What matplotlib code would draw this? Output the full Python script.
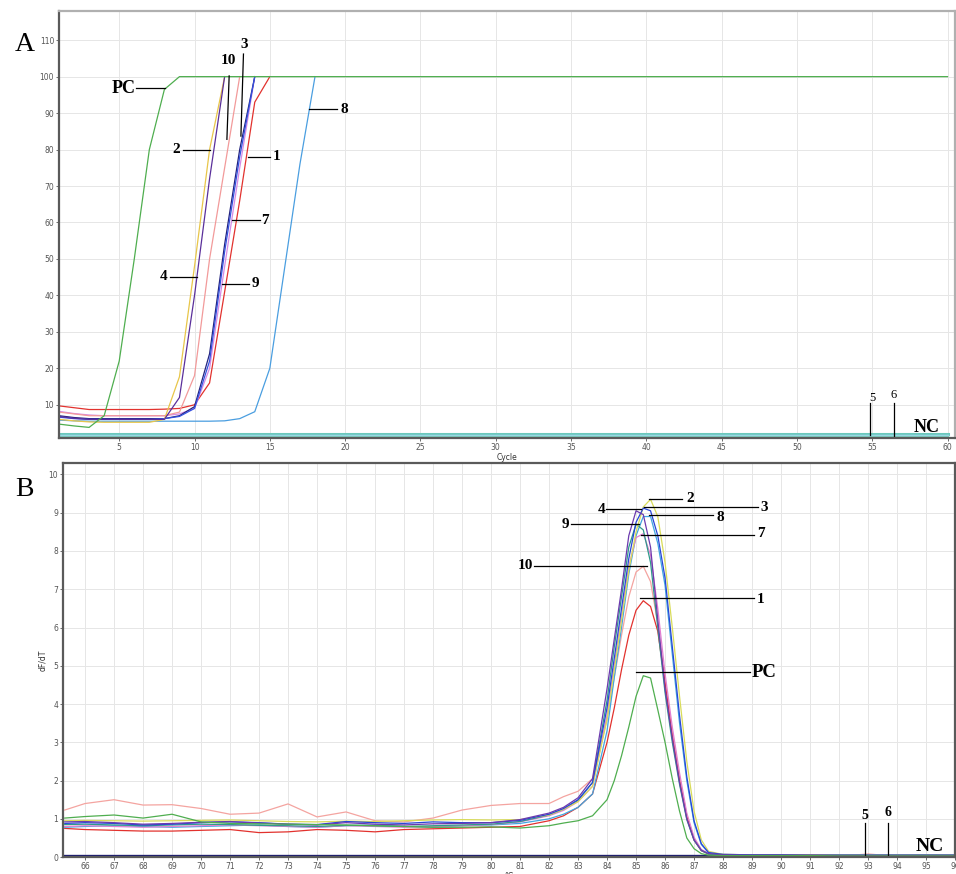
import matplotlib
matplotlib.use('Agg')
from matplotlib import pyplot as plt

# ---- panel A : amplification curves (fluorescence vs cycle) ----
cycles = list(range(1, 19))
amp_pc_cycles = [1, 2, 3, 4, 5, 6, 7, 8, 9, 60]
amp_pc = [4.7, 4.2, 3.8, 7.0, 22, 50, 80, 96.5, 100, 100]
amp_1 = [9.7, 9.2, 8.7, 8.7, 8.7, 8.7, 8.7, 8.8, 9.0, 10.0, 16, 41, 66, 93, 100]
amp_2 = [6.0, 5.6, 5.3, 5.2, 5.2, 5.2, 5.2, 6.0, 17.7, 48, 80, 100]
amp_3 = [6.6, 6.2, 6.0, 6.0, 6.0, 6.0, 6.0, 6.2, 6.8, 9.0, 22, 52, 78, 100]
amp_4 = [6.8, 6.3, 6.0, 6.0, 6.0, 6.0, 6.0, 6.0, 12, 40, 72, 100]
amp_7 = [8.2, 7.6, 7.2, 7.0, 7.0, 7.0, 7.0, 7.0, 7.5, 9.0, 20, 48, 75, 100]
amp_8 = [5.8, 5.6, 5.5, 5.5, 5.5, 5.5, 5.5, 5.5, 5.5, 5.5, 5.5, 5.6, 6.2, 8.1, 20, 48, 76, 100]
amp_9 = [7.0, 6.5, 6.2, 6.2, 6.2, 6.2, 6.2, 6.2, 7.0, 9.5, 24, 54, 80, 100]
amp_10 = [8.0, 7.5, 7.0, 7.0, 7.0, 7.0, 7.0, 7.0, 8.0, 18, 50, 75, 100]
amp_neg_cycles = [1, 60]
amp_nc = [2.0, 2.0]
amp_5 = [1.7, 1.7]
amp_6 = [1.5, 1.5]

# ---- panel B : melting curves (dF/dT vs temperature) ----
melt_T = [65.3, 66, 67, 68, 69, 70, 71, 72, 73, 74, 75, 76, 77, 78, 79, 80, 81, 82,
          82.5, 83, 83.5, 84, 84.25, 84.5, 84.75, 85, 85.25, 85.5, 85.75, 86, 86.25,
          86.5, 86.75, 87, 87.25, 87.5, 88, 89, 90, 91, 92, 93, 94, 95, 96]
melt_pc = [1.02, 1.06, 1.10, 1.02, 1.12, 0.92, 0.88, 0.87, 0.86, 0.85, 0.84, 0.82, 0.80, 0.78, 0.78, 0.79, 0.76, 0.82,
           0.89, 0.95, 1.08, 1.50, 2.00, 2.65, 3.40, 4.20, 4.74, 4.68, 3.85, 3.00, 2.05, 1.20,
           0.50, 0.22, 0.09, 0.05, 0.04, 0.04, 0.04, 0.04, 0.03, 0.03, 0.03, 0.03, 0.03]
melt_1 = [0.75, 0.72, 0.70, 0.68, 0.68, 0.70, 0.72, 0.64, 0.66, 0.72, 0.70, 0.66, 0.72, 0.74, 0.76, 0.78, 0.80, 0.95,
          1.08, 1.30, 1.65, 3.00, 3.90, 4.90, 5.80, 6.45, 6.70, 6.55, 5.90, 4.55, 3.15, 2.00,
          1.05, 0.45, 0.17, 0.08, 0.06, 0.05, 0.05, 0.05, 0.05, 0.07, 0.05, 0.05, 0.05]
melt_2 = [0.95, 0.96, 0.95, 0.94, 0.95, 0.96, 0.97, 0.95, 0.93, 0.92, 0.94, 0.93, 0.95, 0.97, 0.98, 0.97, 0.98, 1.10,
          1.25, 1.45, 1.85, 3.60, 4.90, 6.20, 7.50, 8.50, 9.15, 9.35, 8.90, 7.70, 6.00, 4.20,
          2.50, 1.20, 0.45, 0.15, 0.07, 0.06, 0.06, 0.06, 0.05, 0.05, 0.05, 0.05, 0.05]
melt_3 = [0.88, 0.90, 0.88, 0.84, 0.86, 0.90, 0.92, 0.90, 0.86, 0.85, 0.93, 0.90, 0.88, 0.92, 0.90, 0.90, 0.96, 1.12,
          1.27, 1.50, 1.95, 3.90, 5.20, 6.50, 7.80, 8.75, 9.12, 9.05, 8.40, 7.30, 5.50, 3.70,
          2.10, 0.95, 0.35, 0.12, 0.07, 0.06, 0.06, 0.05, 0.05, 0.05, 0.05, 0.05, 0.05]
melt_4 = [0.92, 0.93, 0.90, 0.86, 0.88, 0.91, 0.93, 0.89, 0.86, 0.84, 0.90, 0.86, 0.84, 0.87, 0.88, 0.90, 0.98, 1.15,
          1.30, 1.55, 2.05, 4.40, 5.70, 7.00, 8.40, 9.05, 8.95, 8.10, 6.20, 4.40, 3.10, 1.95,
          1.00, 0.45, 0.18, 0.09, 0.06, 0.05, 0.05, 0.05, 0.04, 0.04, 0.04, 0.04, 0.04]
melt_7 = [0.80, 0.82, 0.80, 0.78, 0.80, 0.82, 0.84, 0.82, 0.80, 0.78, 0.82, 0.80, 0.78, 0.80, 0.82, 0.85, 0.92, 1.08,
          1.22, 1.45, 1.85, 3.70, 5.00, 6.30, 7.60, 8.35, 8.45, 7.90, 6.50, 4.80, 3.40, 2.20,
          1.15, 0.52, 0.20, 0.09, 0.06, 0.05, 0.05, 0.05, 0.05, 0.05, 0.05, 0.05, 0.05]
melt_8 = [0.78, 0.80, 0.82, 0.80, 0.78, 0.80, 0.82, 0.84, 0.80, 0.78, 0.82, 0.84, 0.80, 0.78, 0.82, 0.84, 0.88, 1.00,
          1.12, 1.30, 1.65, 3.30, 4.70, 6.00, 7.40, 8.40, 8.90, 8.90, 8.20, 7.10, 5.30, 3.50,
          2.00, 0.90, 0.33, 0.11, 0.07, 0.06, 0.06, 0.06, 0.06, 0.06, 0.06, 0.06, 0.06]
melt_9 = [0.85, 0.86, 0.84, 0.82, 0.84, 0.86, 0.85, 0.83, 0.82, 0.80, 0.83, 0.82, 0.80, 0.82, 0.84, 0.86, 0.93, 1.10,
          1.25, 1.48, 1.95, 4.10, 5.50, 6.80, 8.10, 8.70, 8.55, 7.70, 6.00, 4.30, 3.00, 1.90,
          0.98, 0.44, 0.17, 0.08, 0.05, 0.05, 0.05, 0.05, 0.05, 0.05, 0.05, 0.05, 0.05]
melt_10 = [1.23, 1.40, 1.50, 1.36, 1.37, 1.27, 1.12, 1.15, 1.39, 1.05, 1.18, 0.95, 0.92, 1.02, 1.23, 1.35, 1.40, 1.40,
           1.58, 1.72, 2.05, 3.60, 4.70, 5.80, 6.80, 7.45, 7.60, 7.20, 6.10, 4.60, 3.30, 2.10,
           1.10, 0.48, 0.18, 0.09, 0.07, 0.06, 0.06, 0.06, 0.05, 0.07, 0.05, 0.05, 0.05]
melt_neg_T = [65.3, 96]
melt_nc = [0.02, 0.02]

serif = ['Liberation Serif', 'DejaVu Serif']

fig = plt.figure(figsize=(9.56, 8.74), dpi=100)
axA = fig.add_axes([0.0617, 0.4989, 0.9373, 0.4885])
axB = fig.add_axes([0.0659, 0.0189, 0.9331, 0.4514])

lw = 0.9
# panel A curves
axA.plot(amp_neg_cycles, amp_nc, color='#6cc8bc', lw=2.2)
axA.plot(amp_neg_cycles, amp_5, color='#9fd8ee', lw=1.0)
axA.plot(amp_neg_cycles, amp_6, color='#7ccfc0', lw=1.0)
axA.plot(cycles[:len(amp_8)], amp_8, color='#4a9ee0', lw=lw)
axA.plot(cycles[:len(amp_1)], amp_1, color='#e2322e', lw=lw)
axA.plot(cycles[:len(amp_7)], amp_7, color='#d58be6', lw=lw)
axA.plot(cycles[:len(amp_9)], amp_9, color='#23237e', lw=lw)
axA.plot(cycles[:len(amp_3)], amp_3, color='#3552e0', lw=lw)
axA.plot(cycles[:len(amp_10)], amp_10, color='#f29a9a', lw=lw)
axA.plot(cycles[:len(amp_2)], amp_2, color='#e8c64a', lw=lw)
axA.plot(cycles[:len(amp_4)], amp_4, color='#5a2f9a', lw=lw)
axA.plot(amp_pc_cycles, amp_pc, color='#4fae4f', lw=lw)

axA.set_xlim(1, 60.5)
axA.set_ylim(0.9, 118)
axA.set_xticks(range(5, 61, 5))
axA.set_yticks(range(10, 111, 10))
axA.set_xlabel('Cycle', fontsize=5.5, labelpad=0.5, color='#333333')

# panel B curves
axB.plot(melt_neg_T, melt_nc, color='#1a1a70', lw=2.4)
axB.plot(melt_T, melt_10, color='#f4a4a0', lw=lw)
axB.plot(melt_T, melt_1, color='#e2322e', lw=lw)
axB.plot(melt_T, melt_8, color='#42a6e0', lw=lw)
axB.plot(melt_T, melt_7, color='#e27fd2', lw=lw)
axB.plot(melt_T, melt_9, color='#2f9a8a', lw=lw)
axB.plot(melt_T, melt_2, color='#d9dc5a', lw=lw)
axB.plot(melt_T, melt_3, color='#2846d6', lw=lw)
axB.plot(melt_T, melt_4, color='#6c3aae', lw=lw)
axB.plot(melt_T, melt_pc, color='#4fae4f', lw=lw)

axB.set_xlim(65.24, 95.93)
axB.set_ylim(-0.01, 10.3)
axB.set_xticks(range(66, 97))
axB.set_yticks(range(0, 11))
axB.set_ylabel('dF/dT', fontsize=5.5, labelpad=1, color='#333333')
axB.set_xlabel('°C', fontsize=5.5, labelpad=0.5, color='#333333')

for ax in (axA, axB):
    ax.grid(True, color='#e6e6e6', lw=0.7)
    ax.set_axisbelow(True)
    ax.tick_params(labelsize=5.5, length=2, width=0.6, colors='#555555', pad=1.5)
    for s in ax.spines.values():
        s.set_color('#5a5a5a')
        s.set_linewidth(1.6)
axA.spines['top'].set_color('#b0b0b0')
axA.spines['right'].set_color('#b0b0b0')

# annotation labels drawn as a short leader line plus bold serif text
def hlabel(ax, txt, tx, ty, x0, x1, ly, size=11, ha='center'):
    ax.plot([x0, x1], [ly, ly], color='black', lw=0.9)
    ax.text(tx, ty, txt, fontsize=size, fontweight='bold', family=serif,
            ha=ha, va='center')

def vlabel(ax, txt, tx, ty, x0, x1, y0, y1, size=9, weight='normal'):
    ax.plot([x0, x1], [y0, y1], color='black', lw=0.9)
    ax.text(tx, ty, txt, fontsize=size, fontweight=weight, family=serif,
            ha='center', va='center')

hlabel(axA, 'PC', 6.1, 96.8, 6.1, 8.05, 96.8, size=13, ha='right')
hlabel(axA, '2', 8.76, 79.9, 9.23, 11.04, 79.9)
hlabel(axA, '4', 7.94, 45.1, 8.34, 10.16, 45.1)
hlabel(axA, '1', 15.46, 78.0, 13.58, 15.02, 78.0)
hlabel(axA, '7', 14.7, 60.6, 12.48, 14.36, 60.6)
hlabel(axA, '9', 14.02, 43.2, 11.8, 13.65, 43.2)
hlabel(axA, '8', 19.93, 91.0, 17.57, 19.44, 91.0)
vlabel(axA, '10', 12.25, 104.3, 12.3, 12.15, 100.2, 82.8, size=11, weight='bold')
vlabel(axA, '3', 13.3, 108.7, 13.25, 13.08, 106.2, 83.7, size=11, weight='bold')
vlabel(axA, '5', 54.99, 11.8, 54.88, 54.88, 10.5, 1.8)
vlabel(axA, '6', 56.45, 12.6, 56.45, 56.45, 10.6, 1.0)
axA.text(58.64, 3.9, 'NC', fontsize=13, fontweight='bold', family=serif,
         ha='center', va='center')

hlabel(axB, '2', 86.85, 9.37, 85.46, 86.6, 9.37)
hlabel(axB, '3', 89.42, 9.13, 85.26, 89.2, 9.15)
hlabel(axB, '4', 83.81, 9.09, 83.97, 85.17, 9.09)
hlabel(axB, '8', 87.92, 8.88, 85.46, 87.67, 8.93)
hlabel(axB, '9', 82.55, 8.70, 82.74, 85.09, 8.70)
hlabel(axB, '7', 89.31, 8.46, 85.17, 89.08, 8.43)
hlabel(axB, '10', 81.19, 7.61, 81.48, 85.38, 7.61)
hlabel(axB, '1', 89.31, 6.74, 85.15, 89.08, 6.77)
hlabel(axB, 'PC', 89.0, 4.82, 85.0, 88.93, 4.84, size=13.5, ha='left')
vlabel(axB, '5', 92.88, 1.1, 92.91, 92.91, 0.89, 0.05, size=10, weight='bold')
vlabel(axB, '6', 93.69, 1.17, 93.69, 93.69, 0.89, 0.05, size=10, weight='bold')
axB.text(95.13, 0.28, 'NC', fontsize=14, fontweight='bold', family=serif,
         ha='center', va='center')

fig.text(0.026, 0.949, 'A', fontsize=20, family=serif, ha='center', va='center')
fig.text(0.026, 0.44, 'B', fontsize=20, family=serif, ha='center', va='center')

fig.savefig('out.png', dpi=100)
